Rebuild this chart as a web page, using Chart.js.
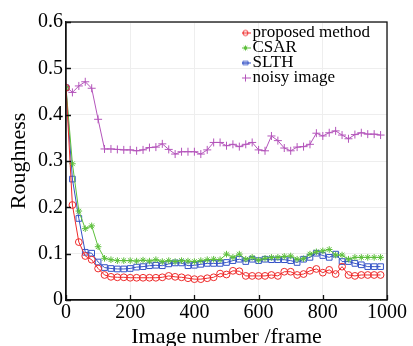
<!DOCTYPE html>
<html>
<head>
<meta charset="utf-8">
<script src="https://cdn.jsdelivr.net/npm/chart.js@4.4.1/dist/chart.umd.min.js"></script>
<style>
	body { margin: 0; background: #fff; }
	canvas { display: block; }
</style>
</head>
<body>
<canvas id="grafico-rugosidade" width="413" height="346"></canvas>
<script>
// frame number of each sample
var quadros = [0, 20, 40, 60, 80, 100, 120, 140, 160, 180,
	200, 220, 240, 260, 280, 300, 320, 340, 360, 380,
	400, 420, 440, 460, 480, 500, 520, 540, 560, 580,
	600, 620, 640, 660, 680, 700, 720, 740, 760, 780,
	800, 820, 840, 860, 880, 900, 920, 940, 960, 980];

var dadosProposto = [0.458, 0.205, 0.125, 0.095, 0.087, 0.068, 0.054, 0.050, 0.049, 0.049,
	0.048, 0.048, 0.048, 0.048, 0.048, 0.049, 0.052, 0.050, 0.049, 0.047,
	0.045, 0.045, 0.047, 0.049, 0.057, 0.055, 0.063, 0.062, 0.052, 0.052,
	0.052, 0.052, 0.054, 0.052, 0.061, 0.061, 0.054, 0.056, 0.063, 0.067,
	0.059, 0.065, 0.056, 0.072, 0.054, 0.052, 0.054, 0.054, 0.054, 0.054];

var dadosCsar = [0.458, 0.294, 0.192, 0.154, 0.160, 0.115, 0.090, 0.087, 0.085, 0.085,
	0.085, 0.084, 0.086, 0.084, 0.087, 0.083, 0.085, 0.083, 0.085, 0.084,
	0.083, 0.085, 0.087, 0.088, 0.087, 0.099, 0.092, 0.099, 0.088, 0.092,
	0.086, 0.090, 0.092, 0.092, 0.094, 0.095, 0.088, 0.089, 0.099, 0.104,
	0.106, 0.109, 0.097, 0.097, 0.088, 0.092, 0.092, 0.092, 0.092, 0.092];

var dadosSlth = [0.458, 0.261, 0.176, 0.103, 0.101, 0.082, 0.070, 0.068, 0.067, 0.067,
	0.068, 0.071, 0.072, 0.074, 0.075, 0.074, 0.078, 0.080, 0.080, 0.074,
	0.075, 0.077, 0.079, 0.079, 0.079, 0.081, 0.085, 0.088, 0.083, 0.088,
	0.085, 0.088, 0.087, 0.087, 0.087, 0.085, 0.081, 0.088, 0.092, 0.101,
	0.096, 0.092, 0.099, 0.083, 0.083, 0.079, 0.076, 0.072, 0.072, 0.072];

var dadosRuidosa = [0.461, 0.448, 0.462, 0.471, 0.457, 0.390, 0.326, 0.326, 0.325, 0.324,
	0.324, 0.322, 0.324, 0.329, 0.330, 0.337, 0.325, 0.315, 0.320, 0.320,
	0.320, 0.315, 0.324, 0.340, 0.340, 0.333, 0.336, 0.331, 0.336, 0.340,
	0.324, 0.322, 0.354, 0.344, 0.328, 0.322, 0.330, 0.331, 0.336, 0.360,
	0.354, 0.361, 0.365, 0.356, 0.348, 0.357, 0.361, 0.358, 0.358, 0.356];

var ticksX = [0, 200, 400, 600, 800, 1000];
var ticksY = [0, 0.1, 0.2, 0.3, 0.4, 0.5, 0.6];

var fonte = "'Liberation Serif', 'DejaVu Serif', serif";

function pares(valores) {
	return quadros.map(function (q, i) { return { x: q, y: valores[i] }; });
}

// small line + marker used as legend symbol
function iconeLegenda(cor, estilo) {
	var c = document.createElement('canvas');
	c.width = 30;
	c.height = 12;
	var g = c.getContext('2d');
	g.strokeStyle = cor;
	g.lineWidth = 1;
	g.beginPath();
	g.moveTo(13, 6.5);
	g.lineTo(24, 6.5);
	g.stroke();
	var cx = 18.5, cy = 6.5, r = 2.6;
	g.beginPath();
	if (estilo === 'circle') {
		g.arc(cx, cy, r, 0, Math.PI * 2);
	} else if (estilo === 'rect') {
		g.rect(cx - r, cy - r + 1, r * 2, r * 2 - 2);
	} else if (estilo === 'star') {
		g.moveTo(cx - r, cy); g.lineTo(cx + r, cy);
		g.moveTo(cx, cy - r); g.lineTo(cx, cy + r);
		g.moveTo(cx - r * 0.7, cy - r * 0.7); g.lineTo(cx + r * 0.7, cy + r * 0.7);
		g.moveTo(cx - r * 0.7, cy + r * 0.7); g.lineTo(cx + r * 0.7, cy - r * 0.7);
	} else {
		g.moveTo(cx - r - 1, cy); g.lineTo(cx + r + 1, cy);
		g.moveTo(cx, cy - r - 1); g.lineTo(cx, cy + r + 1);
	}
	g.stroke();
	return c;
}

function serie(rotulo, valores, cor, estilo, raio) {
	return {
		label: rotulo,
		data: pares(valores),
		borderColor: cor,
		backgroundColor: cor,
		borderWidth: 1,
		pointStyle: estilo,
		pointRadius: raio,
		pointBorderColor: cor,
		pointBackgroundColor: 'rgba(0,0,0,0)',
		pointBorderWidth: 1,
		fill: false,
		tension: 0,
		icone: iconeLegenda(cor, estilo)
	};
}

// moves the legend to the top right of the plot
var posicionarLegenda = {
	id: 'posicionarLegenda',
	afterLayout: function (chart) {
		var leg = chart.legend;
		leg.left = 242;
		leg.top = 26;
		leg.right = 413;
		leg.bottom = 110;
	}
};

// box around the plot and inward ticks
var moldura = {
	id: 'moldura',
	afterDatasetsDraw: function (chart) {
		var ctx = chart.ctx;
		var a = chart.chartArea;
		var sx = chart.scales.x;
		var sy = chart.scales.y;
		ctx.save();
		ctx.strokeStyle = '#111';
		ctx.lineWidth = 1.3;
		ctx.beginPath();
		ticksX.forEach(function (v) {
			var px = Math.round(sx.getPixelForValue(v)) + 0.5;
			ctx.moveTo(px, a.bottom);
			ctx.lineTo(px, a.bottom - 5);
		});
		ticksY.forEach(function (v) {
			var py = Math.round(sy.getPixelForValue(v)) + 0.5;
			ctx.moveTo(a.left, py);
			ctx.lineTo(a.left + 5, py);
		});
		ctx.stroke();
		ctx.strokeRect(a.left, a.top, a.right - a.left, a.bottom - a.top);
		ctx.restore();
	}
};

var ctx = document.getElementById('grafico-rugosidade');

var dados = {
	datasets: [
		serie('proposed method', dadosProposto, '#ee2a2a', 'circle', 3.4),
		serie('CSAR', dadosCsar, '#5cbf3a', 'star', 3.3),
		serie('SLTH', dadosSlth, '#3452c6', 'rect', 4),
		serie('noisy image', dadosRuidosa, '#b455bb', 'cross', 4)
	]
};

var opcoes = {
	responsive: false,
	devicePixelRatio: 1,
	animation: false,
	layout: { padding: { left: 6, top: 22, right: 26, bottom: 0 } },
	plugins: {
		tooltip: { enabled: false },
		legend: {
			position: 'chartArea',
			align: 'start',
			labels: {
				usePointStyle: true,
				pointStyleWidth: 4,
				padding: -2,
				color: '#000',
				font: { family: fonte, size: 17 },
				generateLabels: function (chart) {
					var itens = Chart.defaults.plugins.legend.labels.generateLabels(chart);
					itens.forEach(function (it) {
						it.pointStyle = chart.data.datasets[it.datasetIndex].icone;
					});
					return itens;
				}
			}
		}
	},
	scales: {
		x: {
			type: 'linear',
			min: 0,
			max: 1000,
			afterFit: function (scale) { scale.height = 46; },
			afterBuildTicks: function (scale) {
				scale.ticks = ticksX.map(function (v) { return { value: v }; });
			},
			ticks: {
				color: '#000',
				font: { family: fonte, size: 20 },
				padding: 1,
				maxRotation: 0,
				callback: function (v) { return String(v); }
			},
			grid: { color: '#eeeeee', drawTicks: false },
			border: { color: '#111', width: 1.3 },
			title: {
				display: true,
				text: 'Image number /frame',
				color: '#000',
				font: { family: fonte, size: 22 },
				padding: { top: 0, bottom: -4 }
			}
		},
		y: {
			min: 0,
			max: 0.6,
			afterFit: function (scale) { scale.width = 60; },
			afterBuildTicks: function (scale) {
				scale.ticks = ticksY.map(function (v) { return { value: v }; });
			},
			ticks: {
				color: '#000',
				font: { family: fonte, size: 20 },
				padding: 3,
				callback: function (v) { return String(Math.round(v * 10) / 10); }
			},
			grid: { color: '#eeeeee', drawTicks: false },
			border: { color: '#111', width: 1.3 },
			title: {
				display: true,
				text: 'Roughness',
				color: '#000',
				font: { family: fonte, size: 22 },
				padding: { top: 0, bottom: 0 }
			}
		}
	}
};

var graficoRugosidade = new Chart(ctx, {
	type: 'line',
	data: dados,
	options: opcoes,
	plugins: [posicionarLegenda, moldura]
});
</script>
</body>
</html>
